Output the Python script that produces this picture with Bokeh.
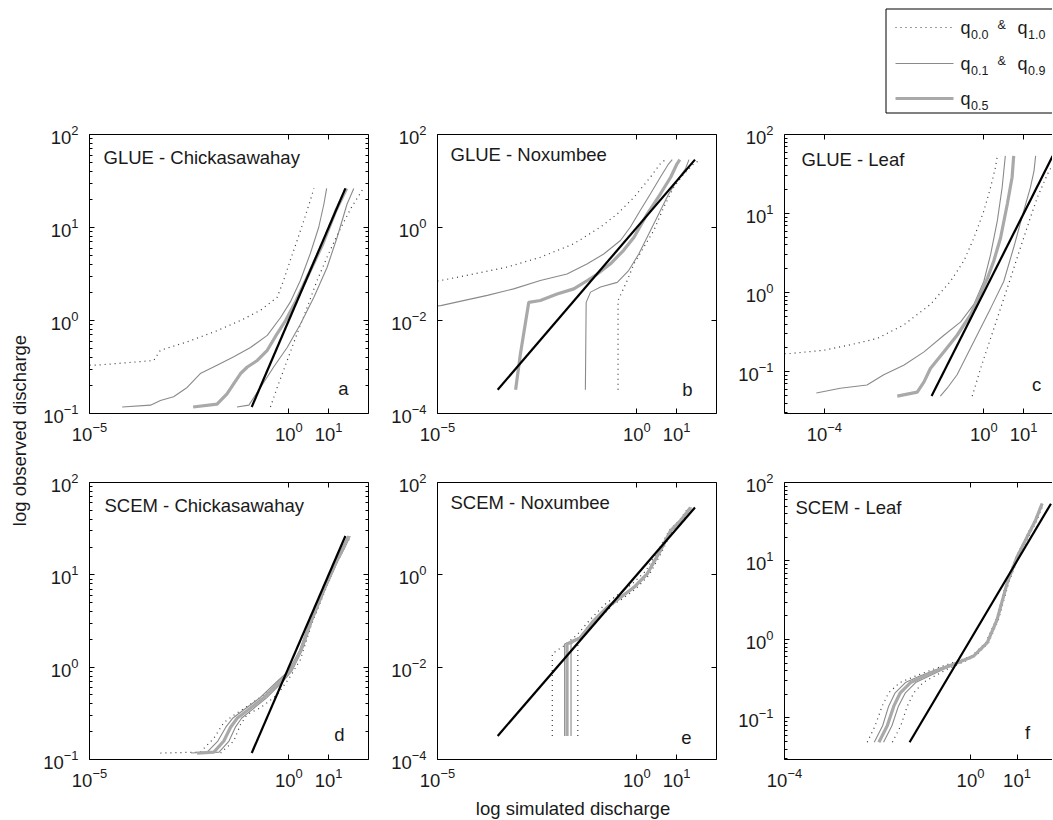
import math
from bokeh.plotting import figure
from bokeh.layouts import row, column
from bokeh.models import Range1d, LogAxis, FixedTicker, Label, BoxAnnotation
from bokeh.embed import file_html
from bokeh.resources import INLINE

FONT = "Liberation Sans"

# ---------------- data (log10 of discharge) ----------------
chick_range = [-0.93, 1.42]
nox_range = [-3.49, 1.46]
leaf_range = [-1.31, 1.73]

# a: GLUE - Chickasawahay
a_q50_x = [-2.40, -1.80, -1.55, -1.38, -1.21, -1.04, -0.79, -0.54, -0.29, -0.08, 0.18, 0.50, 0.85, 1.18, 1.45]
a_q50_y = [-0.93, -0.90, -0.79, -0.68, -0.57, -0.50, -0.43, -0.32, -0.14, 0.00, 0.21, 0.50, 0.82, 1.18, 1.42]
a_q10_x = [-4.18, -3.47, -3.22, -2.89, -2.55, -2.22, -1.80, -1.38, -0.96, -0.54, -0.21, 0.04, 0.29, 0.54, 0.75, 0.88, 0.95]
a_q10_y = [-0.93, -0.91, -0.86, -0.82, -0.72, -0.57, -0.48, -0.39, -0.29, -0.16, 0.03, 0.20, 0.43, 0.72, 1.00, 1.25, 1.42]
a_q90_x = [-1.30, -1.00, -0.71, -0.38, -0.04, 0.29, 0.63, 0.96, 1.21, 1.46, 1.63]
a_q90_y = [-0.93, -0.91, -0.72, -0.50, -0.29, -0.04, 0.25, 0.57, 0.89, 1.25, 1.42]
a_q00_x = [-6.00, -4.81, -3.39, -3.22, -2.55, -1.80, -1.21, -0.71, -0.29, -0.13, 0.04, 0.21, 0.38, 0.54, 0.63]
a_q00_y = [-0.48, -0.48, -0.43, -0.32, -0.23, -0.11, 0.00, 0.11, 0.25, 0.43, 0.65, 0.86, 1.08, 1.29, 1.42]
a_q100_x = [-0.46, -0.29, -0.04, 0.21, 0.46, 0.71, 0.98, 1.25, 1.55, 1.87]
a_q100_y = [-0.93, -0.72, -0.43, -0.14, 0.14, 0.43, 0.70, 0.95, 1.20, 1.42]

# b: GLUE - Noxumbee
b_q50_x = [-3.04, -2.92, -2.71, -2.42, -2.00, -1.58, -1.24, -0.99, -0.66, -0.33, -0.07, 0.26, 0.59, 0.85, 1.01, 1.08]
b_q50_y = [-3.49, -2.72, -1.61, -1.57, -1.43, -1.32, -1.14, -1.00, -0.78, -0.49, -0.21, 0.29, 0.72, 1.08, 1.37, 1.46]
b_q10_x = [-6.00, -4.92, -3.75, -3.09, -2.42, -1.75, -1.24, -0.83, -0.41, -0.16, 0.09, 0.34, 0.59, 0.80, 0.89]
b_q10_y = [-1.75, -1.68, -1.46, -1.32, -1.14, -1.00, -0.78, -0.57, -0.28, 0.01, 0.37, 0.72, 1.08, 1.37, 1.46]
b_q90_x = [-1.29, -1.27, -1.16, -0.91, -0.49, -0.20, 0.05, 0.30, 0.55, 0.80, 1.01, 1.22, 1.31]
b_q90_y = [-3.49, -1.61, -1.39, -1.28, -1.18, -0.92, -0.57, -0.14, 0.29, 0.72, 1.01, 1.26, 1.46]
b_q00_x = [-6.00, -4.92, -4.09, -3.25, -2.42, -1.58, -0.91, -0.49, -0.07, 0.34, 0.59, 0.72]
b_q00_y = [-1.25, -1.14, -1.00, -0.85, -0.64, -0.35, 0.01, 0.29, 0.65, 1.08, 1.37, 1.46]
b_q100_x = [-0.47, -0.47, -0.24, -0.07, 0.18, 0.43, 0.68, 0.93, 1.18, 1.43, 1.60]
b_q100_y = [-3.49, -1.57, -1.14, -0.78, -0.42, -0.06, 0.44, 0.87, 1.15, 1.37, 1.46]

# c: GLUE - Leaf
c_q50_x = [-2.17, -1.67, -1.50, -1.34, -1.00, -0.67, -0.33, 0.09, 0.25, 0.42, 0.59, 0.71, 0.75]
c_q50_y = [-1.31, -1.26, -1.13, -0.96, -0.75, -0.54, -0.28, 0.18, 0.40, 0.69, 1.12, 1.46, 1.73]
c_q10_x = [-4.20, -3.60, -2.93, -2.51, -2.01, -1.50, -1.00, -0.58, -0.25, 0.00, 0.17, 0.34, 0.46, 0.54]
c_q10_y = [-1.27, -1.21, -1.17, -1.04, -0.92, -0.75, -0.54, -0.37, -0.15, 0.14, 0.48, 0.91, 1.33, 1.73]
c_q90_x = [-1.09, -0.92, -0.67, -0.42, -0.17, 0.17, 0.50, 0.75, 1.00, 1.17, 1.26, 1.30]
c_q90_y = [-1.31, -1.21, -1.04, -0.79, -0.54, -0.20, 0.14, 0.57, 1.03, 1.33, 1.54, 1.73]
c_q00_x = [-6.00, -4.85, -4.01, -3.34, -2.67, -2.01, -1.34, -0.84, -0.50, -0.25, 0.00, 0.17, 0.29, 0.34]
c_q00_y = [-0.80, -0.77, -0.73, -0.66, -0.58, -0.41, -0.15, 0.14, 0.40, 0.69, 1.03, 1.33, 1.58, 1.73]
c_q100_x = [-0.29, -0.08, 0.17, 0.42, 0.67, 0.92, 1.17, 1.34, 1.60, 1.85]
c_q100_y = [-1.31, -0.96, -0.58, -0.20, 0.18, 0.57, 0.95, 1.20, 1.50, 1.73]

# d: SCEM - Chickasawahay
d_obs = [-0.93, -0.92, -0.80, -0.65, -0.55, -0.47, -0.33, -0.15, -0.04, 0.18, 0.50, 0.86, 1.15, 1.30, 1.42]
d_q50_x = [-2.30, -1.88, -1.63, -1.46, -1.29, -1.04, -0.63, -0.21, 0.04, 0.30, 0.56, 0.90, 1.20, 1.38, 1.51]
d_q10_x = [-2.45, -2.05, -1.78, -1.58, -1.40, -1.15, -0.72, -0.28, 0.00, 0.27, 0.53, 0.87, 1.17, 1.35, 1.48]
d_q90_x = [-2.20, -1.75, -1.50, -1.34, -1.18, -0.95, -0.55, -0.14, 0.08, 0.33, 0.59, 0.93, 1.23, 1.41, 1.54]
d_q00_x = [-3.22, -2.22, -1.88, -1.63, -1.38, -0.96, -0.46, -0.13, 0.10, 0.33, 0.57, 0.92, 1.18, 1.36, 1.49]
d_q00_y = [-0.93, -0.92, -0.77, -0.60, -0.52, -0.40, -0.25, -0.10, 0.02, 0.22, 0.52, 0.88, 1.15, 1.30, 1.42]
d_q100_x = [-1.71, -1.38, -1.21, -1.04, -0.71, -0.29, 0.04, 0.29, 0.56, 0.90, 1.20, 1.40, 1.56]
d_q100_y = [-0.93, -0.80, -0.62, -0.51, -0.44, -0.30, -0.10, 0.08, 0.45, 0.82, 1.12, 1.30, 1.42]

# e: SCEM - Noxumbee
e_obs = [-3.49, -1.50, -1.46, -1.36, -0.99, -0.70, -0.49, -0.27, 0.02, 0.52, 0.96, 1.18, 1.46]
e_q50_x = [-1.75, -1.75, -1.66, -1.41, -1.08, -0.74, -0.41, -0.07, 0.26, 0.59, 0.85, 1.10, 1.35]
e_q10_x = [-1.81, -1.81, -1.70, -1.45, -1.10, -0.76, -0.43, -0.10, 0.24, 0.57, 0.84, 1.09, 1.33]
e_q90_x = [-1.65, -1.65, -1.60, -1.37, -1.05, -0.71, -0.38, -0.04, 0.28, 0.61, 0.87, 1.12, 1.37]
e_q00_x = [-2.12, -2.12, -1.85, -1.50, -1.15, -0.80, -0.46, -0.12, 0.22, 0.55, 0.82, 1.08, 1.30]
e_q00_y = [-3.49, -1.71, -1.55, -1.30, -0.95, -0.64, -0.42, -0.20, 0.08, 0.55, 0.97, 1.19, 1.46]
e_q100_x = [-1.48, -1.48, -1.24, -0.91, -0.58, -0.36, -0.02, 0.31, 0.63, 0.88, 1.13, 1.40]
e_q100_y = [-3.49, -1.50, -1.14, -0.92, -0.63, -0.52, -0.30, 0.00, 0.50, 0.95, 1.17, 1.46]

# f: SCEM - Leaf
f_obs = [-1.31, -1.10, -0.85, -0.68, -0.55, -0.47, -0.38, -0.30, -0.21, -0.04, 0.25, 0.72, 1.05, 1.31, 1.52, 1.73]
f_q50_x = [-1.97, -1.79, -1.65, -1.51, -1.29, -1.00, -0.65, -0.29, 0.07, 0.36, 0.57, 0.79, 1.00, 1.22, 1.40, 1.54]
f_q10_x = [-2.07, -1.89, -1.76, -1.62, -1.40, -1.10, -0.72, -0.33, 0.05, 0.35, 0.56, 0.78, 0.99, 1.21, 1.39, 1.53]
f_q90_x = [-1.87, -1.69, -1.55, -1.40, -1.18, -0.90, -0.58, -0.25, 0.09, 0.37, 0.58, 0.80, 1.01, 1.23, 1.41, 1.55]
f_q00_x = [-2.22, -2.05, -1.90, -1.76, -1.52, -1.20, -0.80, -0.40, 0.03, 0.33, 0.55, 0.77, 0.98, 1.20, 1.38, 1.52]
f_q100_x = [-1.68, -1.50, -1.36, -1.22, -1.02, -0.78, -0.50, -0.20, 0.11, 0.39, 0.60, 0.82, 1.03, 1.25, 1.43, 1.57]

titles = ["GLUE - Chickasawahay", "GLUE - Noxumbee", "GLUE - Leaf",
          "SCEM - Chickasawahay", "SCEM - Noxumbee", "SCEM - Leaf"]
letters = ["a", "b", "c", "d", "e", "f"]

# ---------------- styles ----------------
DOT = dict(line_color="#3a3a3a", line_width=1.2, line_dash="1 4")
THIN = dict(line_color="#8a8a8a", line_width=1.1)
THICK = dict(line_color="#a9a9a9", line_width=3.2)
BLACK = dict(line_color="black", line_width=2.2)
TICK_FS = "18.5px"
TXT = "#1a1a1a"


def pw(v):
    return [10.0 ** t for t in v]


def minor_ticks(lo, hi):
    out = []
    for d in range(math.floor(lo), math.ceil(hi) + 1):
        for m in range(2, 10):
            v = m * 10.0 ** d
            if 10.0 ** lo <= v <= 10.0 ** hi:
                out.append(v)
    return out


def panel(idx, xlog, ylog, xt, yt, yminor, fw, fh, bl, br, bt, bb, right_axis,
          curves, obs_range, title_off, letter_off):
    p = figure(width=bl + fw + br, height=bt + fh + bb,
               x_axis_type="log", y_axis_type="log",
               x_range=Range1d(10.0 ** xlog[0], 10.0 ** xlog[1]),
               y_range=Range1d(10.0 ** ylog[0], 10.0 ** ylog[1]),
               toolbar_location=None, output_backend="svg",
               min_border_left=bl, min_border_right=br,
               min_border_top=bt, min_border_bottom=bb)
    p.outline_line_color = None
    p.grid.visible = False
    p.background_fill_color = "white"
    p.border_fill_color = "white"
    xticks = [10.0 ** e for e in xt]
    yticks = [10.0 ** e for e in yt]
    ymin = minor_ticks(ylog[0], ylog[1]) if yminor else []

    def style(ax, lab):
        ax.axis_line_color = "black"
        ax.axis_line_width = 1
        ax.major_tick_line_color = "black"
        ax.minor_tick_line_color = "black"
        ax.major_tick_in = 5
        ax.major_tick_out = 0
        ax.minor_tick_in = 3
        ax.minor_tick_out = 0
        ax.major_label_text_font = FONT
        ax.major_label_text_color = TXT
        if lab:
            ax.major_label_text_font_size = TICK_FS
        else:
            ax.major_label_text_font_size = "2px"
            ax.major_label_text_alpha = 0
            ax.major_label_standoff = 0

    xa = p.xaxis[0]
    xa.ticker = FixedTicker(ticks=xticks, minor_ticks=[])
    style(xa, True)
    xa.major_label_standoff = 8
    ya = p.yaxis[0]
    ya.ticker = FixedTicker(ticks=yticks, minor_ticks=ymin)
    style(ya, True)
    ya.major_label_standoff = 11

    top = LogAxis(ticker=FixedTicker(ticks=xticks, minor_ticks=[]))
    style(top, False)
    p.add_layout(top, "above")
    if right_axis:
        ra = LogAxis(ticker=FixedTicker(ticks=yticks, minor_ticks=ymin))
        style(ra, False)
        p.add_layout(ra, "right")

    for xs, ys, st in curves:
        p.line(pw(xs), pw(ys), **st)
    p.line(pw(obs_range), pw(obs_range), **BLACK)

    def at(dx, dy):
        lx = xlog[0] + dx / fw * (xlog[1] - xlog[0])
        ly = ylog[1] - dy / fh * (ylog[1] - ylog[0])
        return 10.0 ** lx, 10.0 ** ly

    tx, ty = at(*title_off)
    p.add_layout(Label(x=tx, y=ty, text=titles[idx], text_font=FONT,
                       text_font_size="18.5px", text_color=TXT,
                       text_align="left", text_baseline="middle"))
    lx, ly = at(*letter_off)
    p.add_layout(Label(x=lx, y=ly, text=letters[idx], text_font=FONT,
                       text_font_size="18.5px", text_color=TXT,
                       text_align="center", text_baseline="middle"))
    return p


FW, FH1, FH2 = 279, 279, 277
FW3 = 268
XL_AB = (-5.0, 2.0)
XL_C = (-5.0, -5.0 + FW3 / 39.86)
XL_F = (-4.0, -4.0 + FW3 / 46.5)
LG_H, BT1, BB1, BT2, BB2, XL_H = 118, 16, 45, 24, 36, 24

pa = panel(0, XL_AB, (-1.0, 2.0), [-5, 0, 1], [-1, 0, 1, 2], True, FW, FH1, 51, 18, BT1, BB1, True,
           [(a_q00_x, a_q00_y, DOT), (a_q100_x, a_q100_y, DOT),
            (a_q10_x, a_q10_y, THIN), (a_q90_x, a_q90_y, THIN),
            (a_q50_x, a_q50_y, THICK)], chick_range, (14, 23), (254, 254))
pb = panel(1, XL_AB, (-4.0, 2.0), [-5, 0, 1], [-4, -2, 0, 2], False, FW, FH1, 51, 17, BT1, BB1, True,
           [(b_q00_x, b_q00_y, DOT), (b_q100_x, b_q100_y, DOT),
            (b_q10_x, b_q10_y, THIN), (b_q90_x, b_q90_y, THIN),
            (b_q50_x, b_q50_y, THICK)], nox_range, (13, 20), (250, 255))
pc = panel(2, XL_C, (-1.53, 2.0), [-4, 0, 1], [-1, 0, 1, 2], True, FW3, FH1, 51, 0, BT1, BB1, False,
           [(c_q00_x, c_q00_y, DOT), (c_q100_x, c_q100_y, DOT),
            (c_q10_x, c_q10_y, THIN), (c_q90_x, c_q90_y, THIN),
            (c_q50_x, c_q50_y, THICK)], leaf_range, (17, 25), (252, 250))
pd = panel(3, XL_AB, (-1.0, 2.0), [-5, 0, 1], [-1, 0, 1, 2], True, FW, FH2, 51, 18, BT2, BB2, True,
           [(d_q00_x, d_q00_y, DOT), (d_q100_x, d_q100_y, DOT),
            (d_q10_x, d_obs, THIN), (d_q90_x, d_obs, THIN),
            (d_q50_x, d_obs, THICK)], chick_range, (15, 23), (250, 252))
pe = panel(4, XL_AB, (-4.0, 2.0), [-5, 0, 1], [-4, -2, 0, 2], False, FW, FH2, 51, 17, BT2, BB2, True,
           [(e_q00_x, e_q00_y, DOT), (e_q100_x, e_q100_y, DOT),
            (e_q10_x, e_obs, THIN), (e_q90_x, e_obs, THIN),
            (e_q50_x, e_obs, THICK)], nox_range, (13, 20), (249, 255))
pf = panel(5, XL_F, (-1.53, 2.0), [-4, 0, 1], [-1, 0, 1, 2], True, FW3, FH2, 51, 0, BT2, BB2, False,
           [(f_q00_x, f_obs, DOT), (f_q100_x, f_obs, DOT),
            (f_q10_x, f_obs, THIN), (f_q90_x, f_obs, THIN),
            (f_q50_x, f_obs, THICK)], leaf_range, (11, 25), (243, 250))

TOTAL_H = LG_H + (BT1 + FH1 + BB1) + (BT2 + FH2 + BB2) + XL_H


def strip(w, h, x0, y0):
    f = figure(width=w, height=h, x_range=Range1d(x0, x0 + w), y_range=Range1d(y0 + h, y0),
               x_axis_location=None, y_axis_location=None, toolbar_location=None,
               output_backend="svg", min_border=0, outline_line_color=None)
    f.grid.visible = False
    return f


def txt(f, x, y, s, size, align="left", angle=0.0):
    f.add_layout(Label(x=x, y=y, text=s, text_font=FONT, text_font_size=size,
                       text_color=TXT, text_align=align, text_baseline="middle", angle=angle))


# ---------------- legend strip (page coordinates) ----------------
lg = strip(1014, LG_H, 38, 0)
lg.add_layout(BoxAnnotation(left=885.5, right=1300, top=8.5, bottom=112.5,
                            fill_color="white", fill_alpha=1, line_color="black",
                            line_alpha=1, line_width=1, level="underlay"))
lg.line([895, 953], [27, 27], **DOT)
lg.line([895, 953], [63, 63], **THIN)
lg.line([895, 953], [98, 98], **THICK)

for mid_y, subs in [(27, ["0.0", "1.0"]), (63, ["0.1", "0.9"]), (98, ["0.5"])]:
    txt(lg, 960, mid_y, "q", "18px")
    txt(lg, 970.5, mid_y + 7, subs[0], "12.5px")
    if len(subs) > 1:
        txt(lg, 997, mid_y - 3, "&", "12.5px")
        txt(lg, 1017, mid_y, "q", "18px")
        txt(lg, 1027.5, mid_y + 7, subs[1], "12.5px")

# ---------------- x label strip ----------------
xl = strip(1014, XL_H, 38, TOTAL_H - XL_H)
txt(xl, 572.5, 808, "log simulated discharge", "18.5px", align="center")

# ---------------- y label strip ----------------
yl = strip(38, TOTAL_H, 0, 0)
txt(yl, 19, 430, "log observed discharge", "18.5px", align="center", angle=math.pi / 2)

layout = row(yl, column(lg, row(pa, pb, pc), row(pd, pe, pf), xl))
open("out.html", "w").write(file_html(layout, INLINE))
